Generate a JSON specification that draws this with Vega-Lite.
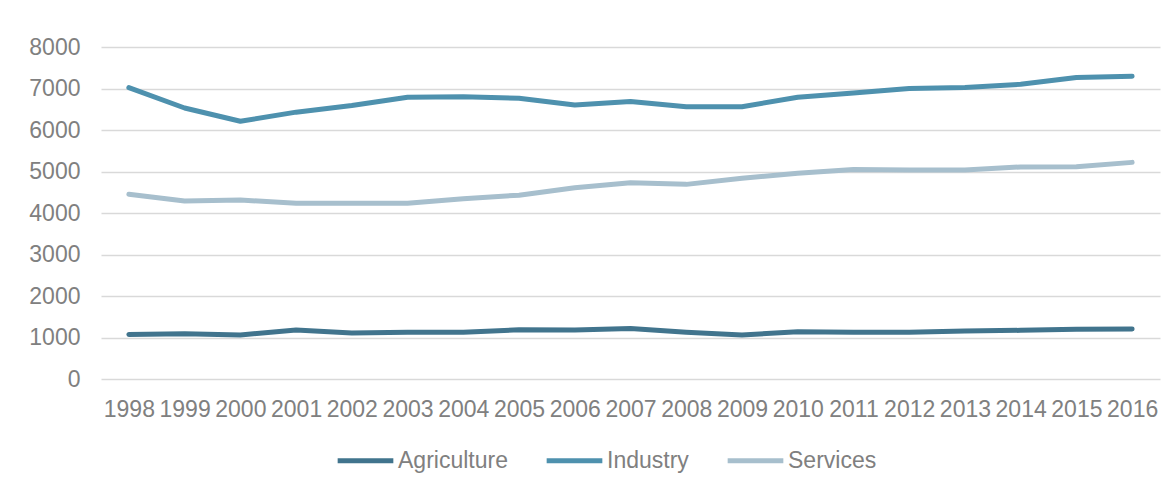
{
  "$schema": "https://vega.github.io/schema/vega-lite/v6.json",
  "width": 1059,
  "height": 332,
  "autosize": {"type": "none"},
  "padding": {"left": 101, "top": 47, "right": 14, "bottom": 107},
  "background": "#ffffff",
  "config": {
    "view": {"stroke": null},
    "font": "Liberation Sans",
    "axis": {"labelFont": "Liberation Sans", "labelColor": "#808080", "labelFontSize": 23, "titleFont": "Liberation Sans"},
    "legend": {"labelFont": "Liberation Sans"}
  },
  "data": {
    "values": [
      {"year": "1998", "sector": "Agriculture", "value": 1075},
      {"year": "1999", "sector": "Agriculture", "value": 1090},
      {"year": "2000", "sector": "Agriculture", "value": 1060},
      {"year": "2001", "sector": "Agriculture", "value": 1180},
      {"year": "2002", "sector": "Agriculture", "value": 1108},
      {"year": "2003", "sector": "Agriculture", "value": 1124},
      {"year": "2004", "sector": "Agriculture", "value": 1124},
      {"year": "2005", "sector": "Agriculture", "value": 1188},
      {"year": "2006", "sector": "Agriculture", "value": 1180},
      {"year": "2007", "sector": "Agriculture", "value": 1215},
      {"year": "2008", "sector": "Agriculture", "value": 1124},
      {"year": "2009", "sector": "Agriculture", "value": 1060},
      {"year": "2010", "sector": "Agriculture", "value": 1140},
      {"year": "2011", "sector": "Agriculture", "value": 1124},
      {"year": "2012", "sector": "Agriculture", "value": 1124},
      {"year": "2013", "sector": "Agriculture", "value": 1157},
      {"year": "2014", "sector": "Agriculture", "value": 1173},
      {"year": "2015", "sector": "Agriculture", "value": 1200},
      {"year": "2016", "sector": "Agriculture", "value": 1205},
      {"year": "1998", "sector": "Industry", "value": 7020},
      {"year": "1999", "sector": "Industry", "value": 6530},
      {"year": "2000", "sector": "Industry", "value": 6210},
      {"year": "2001", "sector": "Industry", "value": 6430},
      {"year": "2002", "sector": "Industry", "value": 6590},
      {"year": "2003", "sector": "Industry", "value": 6790},
      {"year": "2004", "sector": "Industry", "value": 6800},
      {"year": "2005", "sector": "Industry", "value": 6765},
      {"year": "2006", "sector": "Industry", "value": 6600},
      {"year": "2007", "sector": "Industry", "value": 6685},
      {"year": "2008", "sector": "Industry", "value": 6560},
      {"year": "2009", "sector": "Industry", "value": 6560},
      {"year": "2010", "sector": "Industry", "value": 6790},
      {"year": "2011", "sector": "Industry", "value": 6890},
      {"year": "2012", "sector": "Industry", "value": 7000},
      {"year": "2013", "sector": "Industry", "value": 7025},
      {"year": "2014", "sector": "Industry", "value": 7100},
      {"year": "2015", "sector": "Industry", "value": 7265},
      {"year": "2016", "sector": "Industry", "value": 7295},
      {"year": "1998", "sector": "Services", "value": 4450},
      {"year": "1999", "sector": "Services", "value": 4290},
      {"year": "2000", "sector": "Services", "value": 4313},
      {"year": "2001", "sector": "Services", "value": 4233},
      {"year": "2002", "sector": "Services", "value": 4235},
      {"year": "2003", "sector": "Services", "value": 4235},
      {"year": "2004", "sector": "Services", "value": 4345},
      {"year": "2005", "sector": "Services", "value": 4430},
      {"year": "2006", "sector": "Services", "value": 4610},
      {"year": "2007", "sector": "Services", "value": 4730},
      {"year": "2008", "sector": "Services", "value": 4690},
      {"year": "2009", "sector": "Services", "value": 4835},
      {"year": "2010", "sector": "Services", "value": 4960},
      {"year": "2011", "sector": "Services", "value": 5050},
      {"year": "2012", "sector": "Services", "value": 5036},
      {"year": "2013", "sector": "Services", "value": 5036},
      {"year": "2014", "sector": "Services", "value": 5110},
      {"year": "2015", "sector": "Services", "value": 5115},
      {"year": "2016", "sector": "Services", "value": 5220}
    ]
  },
  "mark": {"type": "line", "strokeWidth": 5, "strokeCap": "round", "strokeJoin": "round"},
  "encoding": {
    "x": {
      "field": "year",
      "type": "ordinal",
      "scale": {"type": "point", "padding": 0.5},
      "axis": {
        "title": null,
        "labelAngle": 0,
        "labelOverlap": false,
        "labelFlush": false,
        "ticks": false,
        "domain": false,
        "grid": false,
        "labelPadding": 19
      }
    },
    "y": {
      "field": "value",
      "type": "quantitative",
      "scale": {"domain": [0, 8000], "nice": false},
      "axis": {
        "title": null,
        "values": [0, 1000, 2000, 3000, 4000, 5000, 6000, 7000, 8000],
        "format": "d",
        "ticks": false,
        "domain": false,
        "grid": true,
        "gridColor": "#d9d9d9",
        "gridWidth": 1.3,
        "labelPadding": 21
      }
    },
    "color": {
      "field": "sector",
      "type": "nominal",
      "scale": {
        "domain": ["Agriculture", "Industry", "Services"],
        "range": ["#41748d", "#4e91ae", "#a7bfcd"]
      },
      "legend": {
        "title": null,
        "orient": "none",
        "direction": "horizontal",
        "legendX": 234,
        "legendY": 383,
        "symbolType": "stroke",
        "symbolSize": 3100,
        "symbolStrokeWidth": 5,
        "labelFontSize": 23,
        "labelColor": "#808080",
        "labelOffset": 2,
        "columnPadding": 28
      }
    }
  }
}
